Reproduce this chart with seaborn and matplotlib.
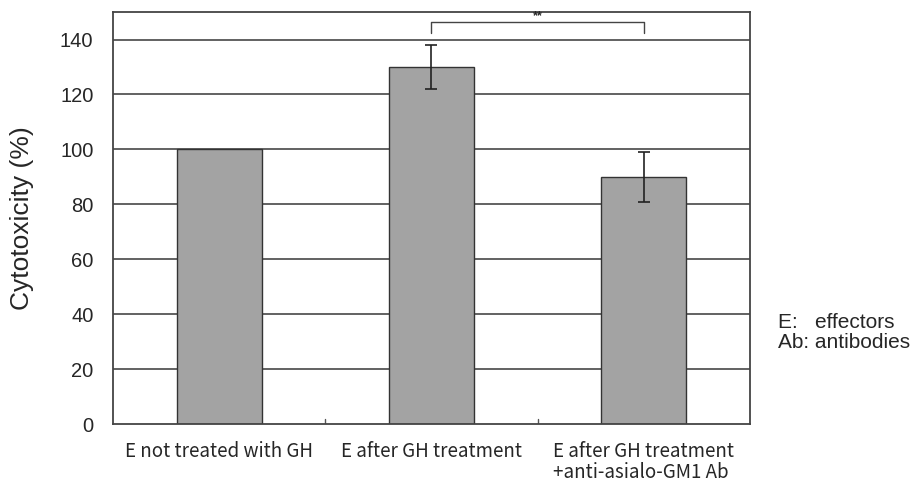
import matplotlib
matplotlib.use("Agg")
import matplotlib.pyplot as plt
import seaborn as sns
import pandas as pd

categories = ["E not treated with GH", "E after GH treatment",
              "E after GH treatment\n+anti-asialo-GM1 Ab"]
values = [100, 130, 90]
errors = [0, 8, 9]
yticks = [0, 20, 40, 60, 80, 100, 120, 140]
sig_pair = (1, 2)
sig_label = "**"
legend_lines = ["E:   effectors", "Ab: antibodies"]

sns.set_theme(style="white")
plt.rcParams['font.family'] = ['Liberation Sans', 'DejaVu Sans']

df = pd.DataFrame({"cat": categories, "val": values, "err": errors})

fig = plt.figure(figsize=(9.18, 4.82), dpi=100)
ax = fig.add_axes([0.123, 0.12, 0.694, 0.855])

for y in yticks[1:]:
    ax.axhline(y, color="#555555", lw=1.3, zorder=0)

sns.barplot(data=df, x="cat", y="val", ax=ax, color="#a3a3a3", width=0.4,
            edgecolor="#333333", linewidth=1.0, saturation=1, zorder=2)
xs = list(range(len(categories)))
ax.errorbar([x for x, e in zip(xs, errors) if e > 0],
            [v for v, e in zip(values, errors) if e > 0],
            yerr=[e for e in errors if e > 0], fmt="none", ecolor="#222222",
            elinewidth=1.2, capsize=4, capthick=1.2, zorder=3)

ax.set_ylim(0, 150)
ax.set_xlim(-0.5, len(categories) - 0.5)
ax.set_yticks(yticks)
ax.set_yticklabels([str(t) for t in yticks], fontsize=14.5)
ax.set_xticks(xs)
ax.set_xticklabels(categories, fontsize=13.5, multialignment="left",
                   family=['Noto Sans CJK JP', 'DejaVu Sans'], linespacing=1.0)
ax.set_xlabel("")
ax.set_ylabel("Cytotoxicity (%)", fontsize=19, labelpad=19)
ax.tick_params(axis="both", length=0)
ax.tick_params(axis="y", pad=14)
ax.tick_params(axis="x", pad=12)
for x in [0.5, 1.5]:
    ax.plot([x, x], [0, 2], color="#555555", lw=1.0, zorder=1)

for s in ax.spines.values():
    s.set_color("#444444")
    s.set_linewidth(1.3)

# significance bracket
x1, x2 = sig_pair
ax.plot([x1, x1, x2, x2], [142.5, 146.5, 146.5, 142.5], color="#444444", lw=1.0)
ax.text((x1 + x2) / 2, 146.3, sig_label, ha="center", va="bottom", fontsize=9,
        fontweight="bold")

fig.text(0.847, 0.31, "\n".join(legend_lines), fontsize=15, ha="left",
         va="center", linespacing=1.1)

fig.savefig("out.png", dpi=100)
